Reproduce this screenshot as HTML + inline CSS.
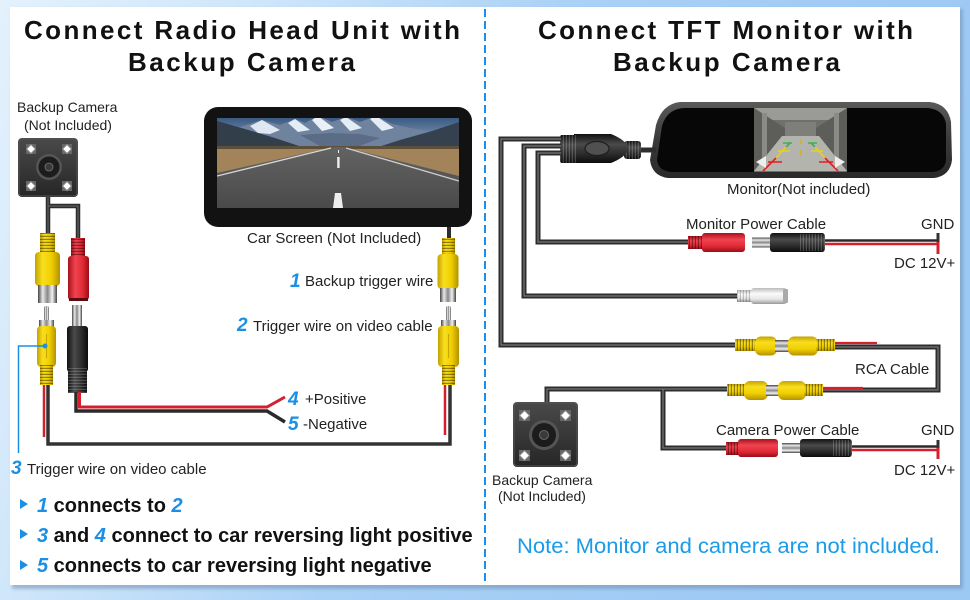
<!DOCTYPE html>
<html><head><meta charset="utf-8">
<style>
html,body{margin:0;padding:0;width:970px;height:600px;overflow:hidden;background:#cfe5f9;}
svg{display:block;font-family:"Liberation Sans",Arial,sans-serif;}
</style></head><body>
<svg width="970" height="600" viewBox="0 0 970 600" xmlns="http://www.w3.org/2000/svg">
<defs>
  <linearGradient id="bg" x1="0" y1="0" x2="1" y2="0.25">
    <stop offset="0" stop-color="#e3f1fc"/>
    <stop offset="0.25" stop-color="#cfe6fa"/>
    <stop offset="0.55" stop-color="#aad1f6"/>
    <stop offset="1" stop-color="#9cc8f4"/>
  </linearGradient>
  <linearGradient id="yel" x1="0" x2="1" y1="0" y2="0">
    <stop offset="0" stop-color="#c4a200"/><stop offset="0.3" stop-color="#f8de1e"/>
    <stop offset="0.65" stop-color="#f0cf00"/><stop offset="1" stop-color="#b39200"/>
  </linearGradient>
  <linearGradient id="yelV" x1="0" x2="0" y1="0" y2="1">
    <stop offset="0" stop-color="#c4a200"/><stop offset="0.3" stop-color="#f8de1e"/>
    <stop offset="0.65" stop-color="#f0cf00"/><stop offset="1" stop-color="#b39200"/>
  </linearGradient>
  <linearGradient id="red" x1="0" x2="1" y1="0" y2="0">
    <stop offset="0" stop-color="#a8121c"/><stop offset="0.35" stop-color="#f04450"/>
    <stop offset="0.7" stop-color="#e02a36"/><stop offset="1" stop-color="#9a0e18"/>
  </linearGradient>
  <linearGradient id="redV" x1="0" x2="0" y1="0" y2="1">
    <stop offset="0" stop-color="#a8121c"/><stop offset="0.35" stop-color="#f04450"/>
    <stop offset="0.7" stop-color="#e02a36"/><stop offset="1" stop-color="#9a0e18"/>
  </linearGradient>
  <linearGradient id="blk" x1="0" x2="1" y1="0" y2="0">
    <stop offset="0" stop-color="#111"/><stop offset="0.35" stop-color="#4a4a4a"/>
    <stop offset="0.7" stop-color="#2a2a2a"/><stop offset="1" stop-color="#0c0c0c"/>
  </linearGradient>
  <linearGradient id="blkV" x1="0" x2="0" y1="0" y2="1">
    <stop offset="0" stop-color="#111"/><stop offset="0.35" stop-color="#4a4a4a"/>
    <stop offset="0.7" stop-color="#2a2a2a"/><stop offset="1" stop-color="#0c0c0c"/>
  </linearGradient>
  <linearGradient id="met" x1="0" x2="1" y1="0" y2="0">
    <stop offset="0" stop-color="#444"/><stop offset="0.25" stop-color="#e8e8e8"/>
    <stop offset="0.5" stop-color="#888"/><stop offset="0.75" stop-color="#f2f2f2"/>
    <stop offset="1" stop-color="#444"/>
  </linearGradient>
  <linearGradient id="metV" x1="0" x2="0" y1="0" y2="1">
    <stop offset="0" stop-color="#444"/><stop offset="0.25" stop-color="#e8e8e8"/>
    <stop offset="0.5" stop-color="#888"/><stop offset="0.75" stop-color="#f2f2f2"/>
    <stop offset="1" stop-color="#444"/>
  </linearGradient>
  <linearGradient id="whtV" x1="0" x2="0" y1="0" y2="1">
    <stop offset="0" stop-color="#bbb"/><stop offset="0.35" stop-color="#fafafa"/>
    <stop offset="0.7" stop-color="#e6e6e6"/><stop offset="1" stop-color="#999"/>
  </linearGradient>
  <linearGradient id="cam" x1="0" x2="0" y1="0" y2="1">
    <stop offset="0" stop-color="#4a4a4a"/><stop offset="1" stop-color="#262626"/>
  </linearGradient>
  <linearGradient id="sky" x1="0" x2="0" y1="0" y2="1">
    <stop offset="0" stop-color="#3a5a82"/><stop offset="1" stop-color="#9db3cc"/>
  </linearGradient>
  <linearGradient id="road" x1="0" x2="0" y1="0" y2="1">
    <stop offset="0" stop-color="#636363"/><stop offset="1" stop-color="#4a4a4a"/>
  </linearGradient>
  <linearGradient id="rim" x1="0" x2="0" y1="0" y2="1">
    <stop offset="0" stop-color="#5a5a5a"/><stop offset="0.5" stop-color="#3a3a3a"/><stop offset="1" stop-color="#2a2a2a"/>
  </linearGradient>
  <pattern id="rh" width="10" height="3" patternUnits="userSpaceOnUse"><rect width="10" height="1.2" y="1.8" fill="#000" opacity=".4"/></pattern>
  <pattern id="rv" width="3" height="10" patternUnits="userSpaceOnUse"><rect width="1.2" height="10" x="1.8" fill="#000" opacity=".4"/></pattern>
  <pattern id="rvw" width="3" height="10" patternUnits="userSpaceOnUse"><rect width="1" height="10" x="1.8" fill="#fff" opacity=".25"/></pattern>
  <pattern id="rhw" width="10" height="3" patternUnits="userSpaceOnUse"><rect width="10" height="1" y="1.8" fill="#fff" opacity=".25"/></pattern>
  <filter id="sh" x="-5%" y="-5%" width="110%" height="110%"><feGaussianBlur stdDeviation="1.5"/></filter>
</defs>

<!-- background -->
<rect width="970" height="600" fill="url(#bg)"/>
<rect x="12" y="9" width="951" height="580" fill="#6f8fb0" opacity=".55" filter="url(#sh)"/>
<rect x="10" y="7" width="950" height="578" fill="#fff"/>

<!-- divider -->
<line x1="485" y1="9" x2="485" y2="585" stroke="#1a8ff0" stroke-width="2" stroke-dasharray="8 4"/>

<!-- titles -->
<g font-weight="bold" font-size="26" fill="#111">
  <text x="24" y="39" textLength="436" lengthAdjust="spacing">Connect Radio Head Unit with</text>
  <text x="128" y="71" textLength="227" lengthAdjust="spacing">Backup Camera</text>
  <text x="538" y="39" textLength="375" lengthAdjust="spacing">Connect TFT Monitor with</text>
  <text x="613" y="71" textLength="227" lengthAdjust="spacing">Backup Camera</text>
</g>

<!-- ============ LEFT PANEL ============ -->
<g font-size="14" fill="#222">
  <text x="17" y="112">Backup Camera</text>
  <text x="24" y="130">(Not Included)</text>
</g>

<!-- left camera -->
<rect x="18" y="138" width="60" height="59" rx="4" fill="url(#cam)"/>
<rect x="19" y="139" width="58" height="57" rx="3" fill="none" stroke="#555" stroke-width="1"/>
<g fill="#fff" stroke="#888" stroke-width="1">
  <rect x="26" y="144" width="10" height="10" fill="#666" stroke="none"/>
  <rect x="62" y="144" width="10" height="10" fill="#666" stroke="none"/>
  <rect x="26" y="181" width="10" height="10" fill="#666" stroke="none"/>
  <rect x="62" y="181" width="10" height="10" fill="#666" stroke="none"/>
  <polygon points="31,144.5 35.5,149 31,153.5 26.5,149"/>
  <polygon points="67,144.5 71.5,149 67,153.5 62.5,149"/>
  <polygon points="31,181.5 35.5,186 31,190.5 26.5,186"/>
  <polygon points="67,181.5 71.5,186 67,190.5 62.5,186"/>
</g>
<circle cx="49" cy="167" r="13" fill="#555"/>
<circle cx="49" cy="167" r="10.5" fill="#1c1c1c"/>
<circle cx="49" cy="167" r="4" fill="#3a3a3a" stroke="#777" stroke-width=".8"/>

<!-- camera cables -->
<g fill="none" stroke-linejoin="miter">
  <path d="M48 197 V234 M48 206 H78 V239" stroke="#2d2d2d" stroke-width="4.5"/>
  <path d="M48 197 V234 M48 206 H78 V239" stroke="#6a6a6a" stroke-width="1"/>
</g>

<!-- top-left yellow female -->
<rect x="40" y="233" width="15" height="21" fill="url(#yel)"/>
<rect x="40" y="233" width="15" height="21" fill="url(#rh)"/>
<rect x="35" y="252" width="25" height="34" rx="4" fill="url(#yel)"/>
<rect x="38" y="285" width="19" height="18" fill="url(#met)"/>
<!-- top-left red female -->
<rect x="71" y="238" width="14" height="20" fill="url(#red)"/>
<rect x="71" y="238" width="14" height="20" fill="url(#rh)"/>
<rect x="68" y="256" width="21" height="44" rx="3" fill="url(#red)"/>
<rect x="69" y="298" width="19" height="3" fill="#5a0a10"/>

<!-- lower-left yellow male -->
<rect x="44" y="306" width="5" height="16" rx="2" fill="url(#met)"/>
<rect x="39" y="320" width="15" height="8" fill="url(#met)"/>
<rect x="37" y="326" width="19" height="41" rx="4" fill="url(#yel)"/>
<line x1="46.5" y1="334" x2="46.5" y2="358" stroke="#c9a600" stroke-width="1"/>
<rect x="40" y="365" width="13" height="20" fill="url(#yel)"/>
<rect x="40" y="365" width="13" height="20" fill="url(#rh)"/>

<!-- black DC male -->
<rect x="72" y="305" width="10" height="23" fill="url(#met)"/>
<rect x="67" y="326" width="21" height="46" rx="3" fill="url(#blk)"/>
<rect x="68" y="368" width="19" height="25" fill="url(#blk)"/>
<rect x="68" y="368" width="19" height="25" fill="url(#rhw)"/>

<!-- left wires -->
<g fill="none" stroke-linejoin="miter">
  <path d="M48 385 V444 H450 V385" stroke="#333" stroke-width="3.5"/>
  <path d="M44 385 V437" stroke="#d4202c" stroke-width="2.5"/>
  <path d="M445 385 V435" stroke="#d4202c" stroke-width="2.5"/>
  <path d="M76 392 V411 H267 L285 422" stroke="#2a2a2a" stroke-width="3.5"/>
  <path d="M79.5 392 V407 H267 L285 397" stroke="#d4202c" stroke-width="3"/>
</g>

<!-- blue leader for 3 -->
<path d="M18.5 453 V346 H45" fill="none" stroke="#1a8fe3" stroke-width="1.5"/>
<circle cx="45" cy="346" r="2.5" fill="#1a8fe3"/>

<!-- car screen -->
<rect x="204" y="107" width="268" height="120" rx="14" fill="#121212"/>
<svg x="217" y="118" width="242" height="90" viewBox="217 118 242 90">
  <rect x="217" y="118" width="242" height="32" fill="url(#sky)"/>
  <polygon points="217,138 240,127 262,120 280,125 295,119 305,123 318,116 332,122 346,117 360,122 376,116 392,124 410,128 432,132 459,136 459,150 217,150" fill="#70839e"/>
  <polygon points="250,126 262,120 280,130 270,134 258,133" fill="#dfe8f2"/>
  <polygon points="288,123 295,119 310,130 298,132" fill="#e4ecf5"/>
  <polygon points="312,120 318,116 334,128 322,131" fill="#e9f0f7"/>
  <polygon points="340,120 346,117 362,128 350,131" fill="#e4ecf5"/>
  <polygon points="370,119 376,116 394,128 382,131" fill="#e4ecf5"/>
  <polygon points="300,135 330,133 360,134 380,138 360,146 320,146" fill="#5a6c86"/>
  <polygon points="217,121 245,129 275,138 305,148 305,151 217,151" fill="#333e4b"/>
  <polygon points="459,122 432,131 400,140 372,149 372,151 459,151" fill="#36414f"/>
  <polygon points="217,146 459,146 459,180 217,178" fill="#a3845a"/>
  <rect x="217" y="146" width="242" height="3" fill="#5e5038"/>
  <polygon points="333,147 344,147 459,176 459,208 217,208 217,173" fill="url(#road)"/>
  <line x1="331" y1="148" x2="217" y2="176" stroke="#d8d8d8" stroke-width="1.3"/>
  <line x1="346" y1="148" x2="459" y2="181" stroke="#cfcfcf" stroke-width="1.3"/>
  <rect x="338" y="150" width="1" height="3" fill="#eee"/>
  <rect x="337.2" y="157" width="2.4" height="11" fill="#eee"/>
  <polygon points="335,193 341,193 343,208 333,208" fill="#eee"/>
</svg>
<g fill="none">
  <path d="M449 227 V239" stroke="#2d2d2d" stroke-width="4"/>
</g>
<text x="247" y="243" font-size="15" fill="#222">Car Screen (Not Included)</text>

<!-- right-side female yellow (left panel) -->
<rect x="442" y="238" width="13" height="18" fill="url(#yel)"/>
<rect x="442" y="238" width="13" height="18" fill="url(#rh)"/>
<rect x="437.5" y="254" width="21" height="35" rx="4" fill="url(#yel)"/>
<rect x="440" y="288" width="16" height="14" fill="url(#met)"/>
<!-- right-side male yellow -->
<rect x="446" y="306" width="5" height="16" rx="2" fill="url(#met)"/>
<rect x="441" y="320" width="15" height="8" fill="url(#met)"/>
<rect x="438" y="326" width="21" height="41" rx="4" fill="url(#yel)"/>
<line x1="448.5" y1="334" x2="448.5" y2="358" stroke="#c9a600" stroke-width="1"/>
<rect x="442" y="365" width="13" height="20" fill="url(#yel)"/>
<rect x="442" y="365" width="13" height="20" fill="url(#rh)"/>

<!-- left labels -->
<g font-size="15" fill="#222">
  <text x="305" y="286">Backup trigger wire</text>
  <text x="253" y="331">Trigger wire on video cable</text>
  <text x="305" y="404">+Positive</text>
  <text x="303" y="429">-Negative</text>
  <text x="27" y="474">Trigger wire on video cable</text>
</g>
<g font-size="19" font-weight="bold" font-style="italic" fill="#1a8fe3">
  <text x="290" y="287">1</text>
  <text x="237" y="331">2</text>
  <text x="288" y="405">4</text>
  <text x="288" y="430">5</text>
  <text x="11" y="474">3</text>
</g>

<!-- bullet text -->
<g fill="#1a8fe3">
  <polygon points="20,499 28,504 20,509"/>
  <polygon points="20,529 28,534 20,539"/>
  <polygon points="20,560 28,565 20,570"/>
</g>
<g font-size="20" font-weight="bold" fill="#111">
  <text x="37" y="512"><tspan fill="#1a8fe3" font-style="italic">1</tspan> connects to <tspan fill="#1a8fe3" font-style="italic">2</tspan></text>
  <text x="37" y="542"><tspan fill="#1a8fe3" font-style="italic">3</tspan> and <tspan fill="#1a8fe3" font-style="italic">4</tspan> connect to car reversing light positive</text>
  <text x="37" y="572"><tspan fill="#1a8fe3" font-style="italic">5</tspan> connects to car reversing light negative</text>
</g>

<!-- ============ RIGHT PANEL ============ -->
<!-- monitor -->
<path d="M680 102 L930 102 Q948 104 951 122 L952 160 Q950 176 934 178 L668 178 Q652 176 650 160 L656 125 Q662 104 680 102 Z" fill="url(#rim)"/>
<path d="M684 108 L928 108 Q944 110 946 124 L946 160 Q945 171 932 172 L672 172 Q658 171 657 160 L662 126 Q667 109 684 108 Z" fill="#070707"/>
<svg x="754" y="108" width="93" height="64" viewBox="754 108 93 64">
  <rect x="754" y="108" width="93" height="64" fill="#6f6f6c"/>
  <rect x="754" y="108" width="93" height="12" fill="#9a9a96"/>
  <polygon points="754,108 785,128 785,140 754,171" fill="#5d5d5a"/>
  <polygon points="847,108 816,128 816,140 847,171" fill="#5d5d5a"/>
  <rect x="762" y="113" width="5" height="50" fill="#8a8a86"/>
  <rect x="834" y="113" width="5" height="50" fill="#8a8a86"/>
  <rect x="785" y="122" width="31" height="14" fill="#7e7e7a"/>
  <polygon points="782,136 819,136 847,171 754,171" fill="#b4b4ae"/>
  <g stroke-width="1.6" fill="none">
    <path d="M790 143 L786 147 M811 143 L815 147 M783 143 H792 M808 143 H817" stroke="#3cb24a"/>
    <path d="M786 147 L776 158 M815 147 L825 158 M778 151 H790 M811 151 H823" stroke="#e8d020"/>
    <path d="M776 158 L763 171 M825 158 L838 171 M768 162 H782 M819 162 H833" stroke="#e02020"/>
  </g>
  <rect x="800" y="140" width="1.5" height="4" fill="#c9b23a"/>
  <rect x="800" y="150" width="1.5" height="6" fill="#c9b23a"/>
  <polygon points="756,162 766,156 766,168" fill="#eee"/>
  <polygon points="845,162 835,156 835,168" fill="#eee"/>
</svg>
<text x="727" y="194" font-size="15" fill="#222">Monitor(Not included)</text>

<!-- monitor plug -->
<rect x="636" y="147.5" width="20" height="5" fill="#2d2d2d"/>
<rect x="624" y="141" width="17" height="18" rx="3" fill="url(#blkV)"/>
<rect x="624" y="141" width="17" height="18" fill="url(#rvw)"/>
<path d="M574 134 L611 134 Q626 140 629 148.5 Q626 157 611 163 L574 163 Z" fill="url(#blkV)"/>
<ellipse cx="597" cy="148.5" rx="12" ry="7" fill="#505050" stroke="#1e1e1e" stroke-width="1.2"/>
<rect x="560" y="135" width="16" height="28" rx="2" fill="url(#blkV)"/>
<rect x="560" y="135" width="16" height="28" fill="url(#rvw)"/>

<!-- right cables -->
<g fill="none" stroke-linejoin="miter">
  <path d="M561 139 H501 V345 H736 M561 146 H524 V296 H738 M561 153 H538 V242 H689 M547 403 V389 H728 M663 389 V448 H727 M835 347 H938 V390 H823" stroke="#2d2d2d" stroke-width="5"/>
  <path d="M561 139 H501 V345 H736 M561 146 H524 V296 H738 M561 153 H538 V242 H689 M547 403 V389 H728 M663 389 V448 H727 M835 347 H938 V390 H823" stroke="#777" stroke-width="1.2"/>
</g>

<!-- monitor power cable -->
<rect x="688" y="236" width="16" height="13" fill="url(#redV)"/>
<rect x="688" y="236" width="16" height="13" fill="url(#rv)"/>
<rect x="702" y="233" width="43" height="19" rx="3" fill="url(#redV)"/>
<rect x="752" y="237.5" width="20" height="10" fill="url(#metV)"/>
<rect x="770" y="233" width="55" height="19" rx="3" fill="url(#blkV)"/>
<rect x="800" y="234" width="25" height="17" fill="url(#rvw)"/>
<line x1="825" y1="240.5" x2="937" y2="240.5" stroke="#2a2a2a" stroke-width="2.5"/>
<line x1="825" y1="244" x2="937" y2="244" stroke="#d4202c" stroke-width="2.5"/>
<line x1="938" y1="233" x2="938" y2="242" stroke="#333" stroke-width="3"/>
<line x1="938" y1="242" x2="938" y2="254" stroke="#d4202c" stroke-width="3"/>

<!-- white RCA -->
<rect x="737" y="290" width="16" height="12" fill="url(#whtV)"/>
<rect x="737" y="290" width="16" height="12" fill="url(#rv)" opacity=".5"/>
<rect x="751" y="288" width="36" height="16" rx="3" fill="url(#whtV)"/>
<rect x="783" y="289" width="5" height="14" rx="1" fill="#aaa"/>

<!-- RCA upper pair -->
<rect x="735" y="339" width="22" height="12" fill="url(#yelV)"/>
<rect x="735" y="339" width="22" height="12" fill="url(#rv)"/>
<rect x="755" y="336.5" width="22" height="19" rx="6" fill="url(#yelV)"/>
<rect x="775" y="340" width="15" height="12" fill="url(#metV)"/>
<rect x="788" y="336.5" width="30" height="19" rx="6" fill="url(#yelV)"/>
<rect x="816" y="339" width="19" height="12" fill="url(#yelV)"/>
<rect x="816" y="339" width="19" height="12" fill="url(#rv)"/>
<line x1="835" y1="343" x2="877" y2="343" stroke="#d4202c" stroke-width="2.2"/>

<!-- RCA lower pair -->
<rect x="727" y="384" width="19" height="12" fill="url(#yelV)"/>
<rect x="727" y="384" width="19" height="12" fill="url(#rv)"/>
<rect x="744" y="381" width="24" height="19" rx="6" fill="url(#yelV)"/>
<rect x="766" y="385" width="14" height="11" fill="url(#metV)"/>
<rect x="778" y="381" width="28" height="19" rx="6" fill="url(#yelV)"/>
<rect x="804" y="384" width="19" height="12" fill="url(#yelV)"/>
<rect x="804" y="384" width="19" height="12" fill="url(#rv)"/>
<line x1="823" y1="388" x2="863" y2="388" stroke="#d4202c" stroke-width="2.2"/>

<!-- camera power cable -->
<rect x="726" y="442" width="14" height="13" fill="url(#redV)"/>
<rect x="726" y="442" width="14" height="13" fill="url(#rv)"/>
<rect x="738" y="439" width="40" height="18" rx="3" fill="url(#redV)"/>
<rect x="782" y="443" width="20" height="10" fill="url(#metV)"/>
<rect x="800" y="439" width="52" height="18" rx="3" fill="url(#blkV)"/>
<rect x="833" y="440" width="19" height="16" fill="url(#rvw)"/>
<line x1="852" y1="446.5" x2="937" y2="446.5" stroke="#2a2a2a" stroke-width="2.5"/>
<line x1="852" y1="450" x2="937" y2="450" stroke="#d4202c" stroke-width="2.5"/>
<line x1="938" y1="440" x2="938" y2="448" stroke="#333" stroke-width="3"/>
<line x1="938" y1="448" x2="938" y2="459" stroke="#d4202c" stroke-width="3"/>

<!-- right camera -->
<rect x="513" y="402" width="65" height="65" rx="4" fill="url(#cam)"/>
<rect x="514" y="403" width="63" height="63" rx="3" fill="none" stroke="#555" stroke-width="1"/>
<g fill="#fff" stroke="#888" stroke-width="1">
  <rect x="519" y="410" width="11" height="11" fill="#666" stroke="none"/>
  <rect x="560" y="410" width="11" height="11" fill="#666" stroke="none"/>
  <rect x="519" y="450" width="11" height="11" fill="#666" stroke="none"/>
  <rect x="560" y="450" width="11" height="11" fill="#666" stroke="none"/>
  <polygon points="524.5,410.5 529.5,415.5 524.5,420.5 519.5,415.5"/>
  <polygon points="565.5,410.5 570.5,415.5 565.5,420.5 560.5,415.5"/>
  <polygon points="524.5,450.5 529.5,455.5 524.5,460.5 519.5,455.5"/>
  <polygon points="565.5,450.5 570.5,455.5 565.5,460.5 560.5,455.5"/>
</g>
<circle cx="544" cy="435" r="15" fill="#555"/>
<circle cx="544" cy="435" r="12" fill="#1c1c1c"/>
<circle cx="544" cy="435" r="4.5" fill="#3a3a3a" stroke="#777" stroke-width=".8"/>

<!-- right labels -->
<g font-size="15" fill="#222">
  <text x="686" y="229">Monitor Power Cable</text>
  <text x="921" y="229">GND</text>
  <text x="894" y="268">DC 12V+</text>
  <text x="855" y="374">RCA Cable</text>
  <text x="716" y="435">Camera Power Cable</text>
  <text x="921" y="435">GND</text>
  <text x="894" y="475">DC 12V+</text>
</g>
<g font-size="14" fill="#222">
  <text x="492" y="485">Backup Camera</text>
  <text x="498" y="501">(Not Included)</text>
</g>
<text x="517" y="553" font-size="21" fill="#1a9be8" textLength="423" lengthAdjust="spacingAndGlyphs">Note: Monitor and camera are not included.</text>
</svg>
</body></html>
